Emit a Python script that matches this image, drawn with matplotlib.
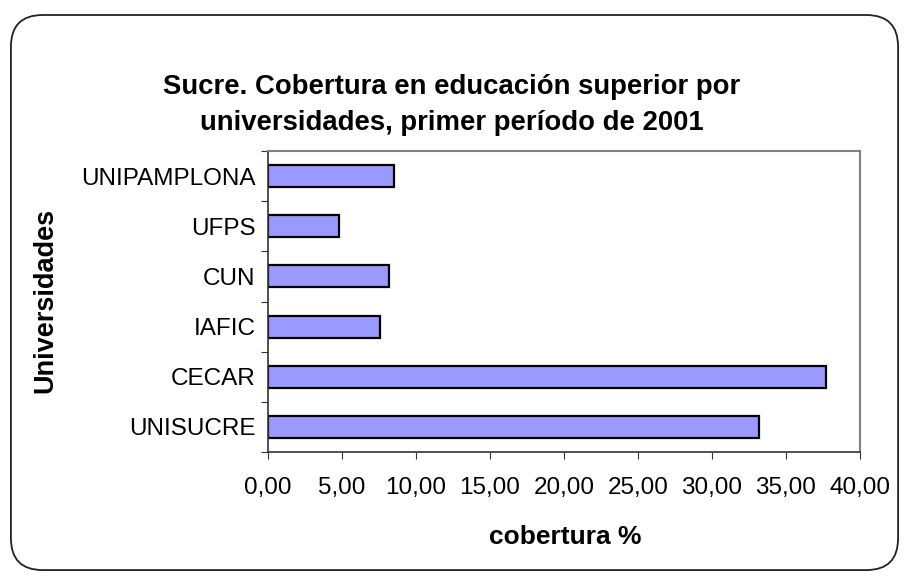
import matplotlib.pyplot as plt
from matplotlib.patches import FancyBboxPatch
from matplotlib.ticker import FuncFormatter

plt.rcParams['font.family'] = ['Liberation Sans', 'DejaVu Sans']

universidades = ['UNISUCRE', 'CECAR', 'IAFIC', 'CUN', 'UFPS', 'UNIPAMPLONA']
cobertura = [33.2, 37.7, 7.6, 8.2, 4.8, 8.5]

fig = plt.figure(figsize=(9.09, 5.77), dpi=100)

# marco redondeado
marco = FancyBboxPatch((0.012, 0.012), 0.976, 0.962,
                       boxstyle='round,pad=0,rounding_size=0.035',
                       transform=fig.transFigure, facecolor='none',
                       edgecolor='#222222', linewidth=1.3, mutation_aspect=909/577,
                       zorder=-1)
fig.patches.append(marco)

ax = fig.add_axes([268/909, 1 - 452/577, (860-268)/909, (452-151)/577])
pos = list(range(len(universidades)))
ax.barh(pos, cobertura, height=0.44, color='#9999FF', edgecolor='black', linewidth=1.6)

ax.set_xlim(0, 40)
ax.set_ylim(-0.5, len(universidades) - 0.5)
ax.set_xticks([0, 5, 10, 15, 20, 25, 30, 35, 40])
ax.xaxis.set_major_formatter(FuncFormatter(lambda v, p: f'{v:.2f}'.replace('.', ',')))
ax.set_yticks([p - 0.5 for p in pos] + [len(universidades) - 0.5])
ax.set_yticklabels([])
ax.set_yticks(pos, minor=True)
ax.set_yticklabels(universidades, minor=True)
ax.tick_params(axis='y', which='minor', length=0, pad=9, labelsize=17.5)
ax.tick_params(axis='y', which='major', length=5, direction='out', color='#333333')
ax.tick_params(axis='x', length=5, direction='out', color='#333333', pad=13, labelsize=17.5)

for s in ['top', 'right']:
    ax.spines[s].set_color('#808080')
    ax.spines[s].set_linewidth(1.5)
for s in ['left', 'bottom']:
    ax.spines[s].set_color('#333333')
    ax.spines[s].set_linewidth(1.2)

fig.text(565/909, 1 - 537/577, 'cobertura %', fontsize=19, fontweight='bold',
         ha='center', va='center')
fig.text(45/909, 1 - 300/577, 'Universidades', rotation=90, fontsize=19.5,
         fontweight='bold', ha='center', va='center')
fig.text(452/909, 1 - 105/577,
         'Sucre. Cobertura en educación superior por\nuniversidades, primer período de 2001',
         fontsize=19.8, fontweight='bold', ha='center', va='center', linespacing=1.5)

fig.savefig('out.png', dpi=100)
